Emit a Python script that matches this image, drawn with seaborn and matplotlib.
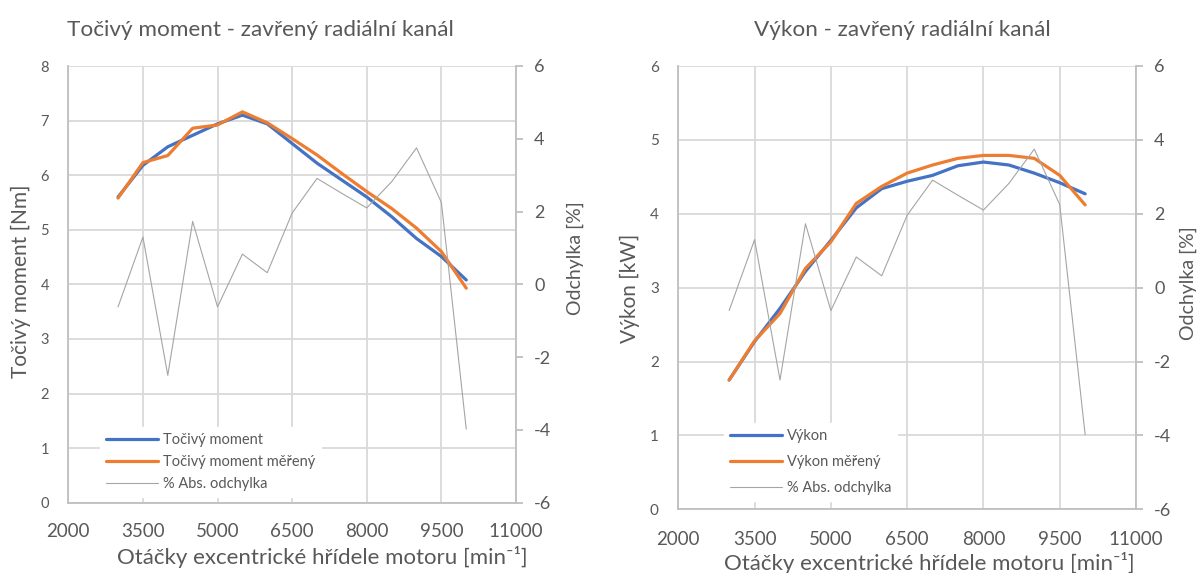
import pandas as pd
import matplotlib
matplotlib.use("Agg")
import matplotlib.pyplot as plt
import seaborn as sns

# ---- data ----
otacky = [3000, 3500, 4000, 4500, 5000, 5500, 6000, 6500,
          7000, 7500, 8000, 8500, 9000, 9500, 10000]
moment = [5.60, 6.18, 6.52, 6.73, 6.94, 7.10, 6.94, 6.58,
          6.22, 5.91, 5.60, 5.24, 4.84, 4.51, 4.08]
moment_mereny = [5.58, 6.23, 6.36, 6.86, 6.92, 7.16, 6.96, 6.67,
                 6.37, 6.03, 5.70, 5.39, 5.03, 4.60, 3.93]
vykon = [1.75, 2.27, 2.72, 3.22, 3.64, 4.08, 4.34, 4.44,
         4.52, 4.65, 4.70, 4.66, 4.55, 4.42, 4.27]
vykon_mereny = [1.75, 2.28, 2.65, 3.26, 3.62, 4.14, 4.37, 4.55,
                4.66, 4.75, 4.79, 4.79, 4.75, 4.52, 4.12]
odchylka = [-0.62, 1.30, -2.50, 1.73, -0.62, 0.83, 0.32, 1.96,
            2.91, 2.50, 2.10, 2.82, 3.75, 2.25, -3.98]

x_ticks = [2000, 3500, 5000, 6500, 8000, 9500, 11000]

# ---- style ----
BLUE = "#4472C4"
ORANGE = "#ED7D31"
GREY = "#A5A5A5"
TEXT = "#595959"
GRID = "#D9D9D9"
AXIS = "#BFBFBF"

sns.set_theme(style="white")
plt.rcParams["font.family"] = ["Lato", "DejaVu Sans"]
plt.rcParams["axes.unicode_minus"] = False
plt.rcParams["text.color"] = TEXT
plt.rcParams["axes.labelcolor"] = TEXT
plt.rcParams["xtick.color"] = TEXT
plt.rcParams["ytick.color"] = TEXT

W, H = 1201, 573
fig = plt.figure(figsize=(W / 100, H / 100), dpi=100)


def fig_rect(x0, y0, x1, y1):
    # pixel box -> figure fraction rect
    return [x0 / W, 1 - y1 / H, (x1 - x0) / W, (y1 - y0) / H]


def draw_panel(rect, y, y_m, name, name_m, ylabel, ymax, left_tick_fs,
               xlab_xy, ylab_xy, rlab_xy, leg_xy, leg_spacing, xpad):
    ax = fig.add_axes(rect)
    df = pd.DataFrame({"otacky": otacky, "y": y, "y_m": y_m, "odch": odchylka})

    sns.lineplot(data=df, x="otacky", y="y", ax=ax, color=BLUE, lw=2.3, label=name)
    sns.lineplot(data=df, x="otacky", y="y_m", ax=ax, color=ORANGE, lw=2.3, label=name_m)
    if ax.get_legend():
        ax.get_legend().remove()

    ax.set_xlim(2000, 11000)
    ax.set_ylim(0, ymax)
    ax.set_xticks(x_ticks)
    ax.set_yticks(range(0, ymax + 1))
    ax.grid(True, color=GRID, lw=1.3)
    ax.set_axisbelow(True)
    ax.tick_params(axis="both", length=0)
    ax.tick_params(axis="x", labelsize=13.5, pad=xpad)
    ax.tick_params(axis="y", labelsize=left_tick_fs, pad=14)
    for s in ["top", "right"]:
        ax.spines[s].set_visible(False)
    for s in ["left", "bottom"]:
        ax.spines[s].set_color(AXIS)
        ax.spines[s].set_linewidth(1.3)

    ax.set_xlabel("Otáčky excentrické hřídele motoru [min⁻¹]", fontsize=16)
    ax.xaxis.set_label_coords(*xlab_xy)
    ax.set_ylabel(ylabel, fontsize=15)
    ax.yaxis.set_label_coords(*ylab_xy)

    axr = ax.twinx()
    sns.lineplot(data=df, x="otacky", y="odch", ax=axr, color=GREY, lw=0.8,
                 label="% Abs. odchylka")
    if axr.get_legend():
        axr.get_legend().remove()
    axr.set_ylim(-6, 6)
    axr.set_yticks(range(-6, 7, 2))
    axr.tick_params(axis="y", length=5, width=1.3, color=AXIS, labelsize=13, pad=8)
    for s in ["top", "left", "bottom"]:
        axr.spines[s].set_visible(False)
    axr.spines["right"].set_color(AXIS)
    axr.spines["right"].set_linewidth(1.3)
    axr.set_ylabel("Odchylka [%]", fontsize=14)
    axr.yaxis.set_label_coords(*rlab_xy)

    h1, l1 = ax.get_legend_handles_labels()
    h2, l2 = axr.get_legend_handles_labels()
    leg = axr.legend(h1 + h2, l1 + l2, loc="upper left",
                     bbox_to_anchor=(leg_xy[0] / W, 1 - leg_xy[1] / H),
                     bbox_transform=fig.transFigure, borderaxespad=0,
                     fontsize=10.5, frameon=True, fancybox=False,
                     handlelength=3.6, handletextpad=0.3,
                     labelspacing=leg_spacing, borderpad=0.4)
    leg.get_frame().set_facecolor("white")
    leg.get_frame().set_edgecolor("white")
    leg.get_frame().set_alpha(1.0)
    for t in leg.get_texts():
        t.set_color(TEXT)
    return ax


draw_panel(fig_rect(68.3, 66, 516, 502.7), moment, moment_mereny,
           "Točivý moment", "Točivý moment měřený", "Točivý moment [Nm]", 8, 10.5,
           xlab_xy=(0.567, -0.1), ylab_xy=(-0.083, 0.506), rlab_xy=(1.114, 0.56),
           leg_xy=(100, 427), leg_spacing=0.55, xpad=14.5)

draw_panel(fig_rect(678.3, 66, 1136, 509.3), vykon, vykon_mereny,
           "Výkon", "Výkon měřený", "Výkon [kW]", 6, 11,
           xlab_xy=(0.548, -0.096), ylab_xy=(-0.084, 0.499), rlab_xy=(1.096, 0.51),
           leg_xy=(724, 423), leg_spacing=0.83, xpad=15.5)

fig.text(260 / W, 1 - 30 / H, "Točivý moment - zavřený radiální kanál",
         ha="center", va="center", fontsize=16.2, color=TEXT)
fig.text(902 / W, 1 - 30 / H, "Výkon - zavřený radiální kanál",
         ha="center", va="center", fontsize=16.2, color=TEXT)

fig.savefig("out.png", dpi=100)
